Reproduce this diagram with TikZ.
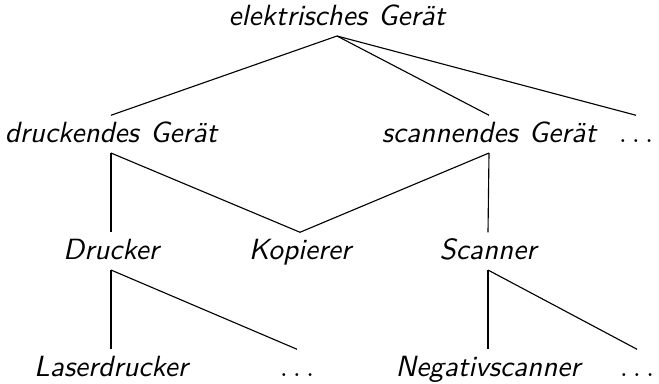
\documentclass[tikz,border=0pt]{standalone}
\usepackage{fontspec}
\newfontfamily\treefont[WordSpace=1.15]{lmsans10-oblique.otf}
\begin{document}
\begin{tikzpicture}[x=0.4pt,y=-0.4pt,
  tn/.style={font=\fontsize{11.7}{14}\treefont, anchor=base, text height=8.3pt, text depth=2pt, inner sep=2.2pt},
  edge/.style={draw=black, line width=0.45pt}]
\useasboundingbox (0,0) rectangle (659,383);
\node[tn] (root) at (337,25) {elektrisches Gerät};
\node[tn] (dg) at (111,142) {druckendes Gerät};
\node[tn] (sg) at (489,142) {scannendes Gerät};
\node[tn] (d1) at (636,142) {$\ldots$};
\node[tn] (dr) at (111,259) {Drucker};
\node[tn] (ko) at (300,259) {Kopierer};
\node[tn] (sc) at (488,259) {Scanner};
\node[tn] (la) at (111,376) {Laserdrucker};
\node[tn] (d2) at (297,376) {$\ldots$};
\node[tn] (ne) at (488,376) {Negativscanner};
\node[tn] (d3) at (637,376) {$\ldots$};
\draw[edge] (root.south) -- (dg.north);
\draw[edge] (root.south) -- (sg.north);
\draw[edge] (root.south) -- (d1.north);
\draw[edge] (dg.south) -- (dr.north);
\draw[edge] (dg.south) -- (ko.north);
\draw[edge] (sg.south) -- (ko.north);
\draw[edge] (sg.south) -- (sc.north);
\draw[edge] (dr.south) -- (la.north);
\draw[edge] (dr.south) -- (d2.north);
\draw[edge] (sc.south) -- (ne.north);
\draw[edge] (sc.south) -- (d3.north);
\end{tikzpicture}
\end{document}
